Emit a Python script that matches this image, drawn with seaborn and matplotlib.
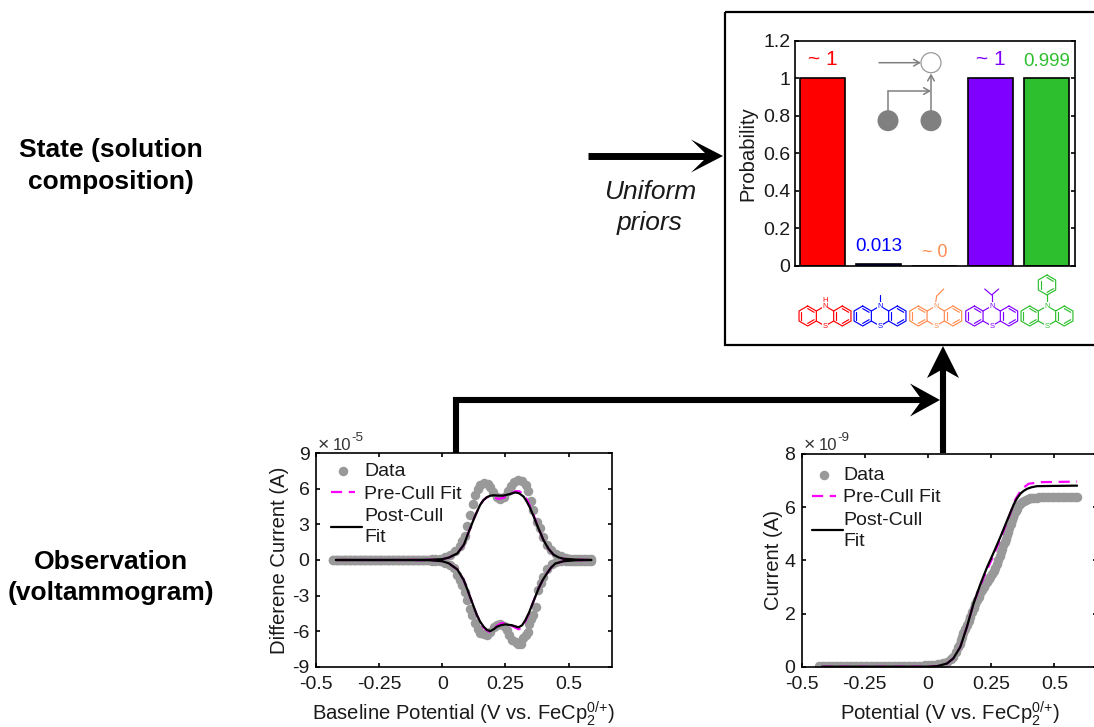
import numpy as np
import pandas as pd
import seaborn as sns
import matplotlib
matplotlib.use('Agg')
import matplotlib.pyplot as plt
from matplotlib.patches import Circle, Rectangle

W, H = 1094, 727
FONT = 'Liberation Sans'
FS = 14
LABEL_FS = 14.6
GREY = '#999999'
NET_GREY = '#808080'

# bar panel
compounds = ['H', 'Methyl', 'Ethyl', 'Isopropyl', 'Phenyl']
probabilities = [1.0, 0.013, 0.0, 1.0, 0.999]
prob_labels = ['~ 1', '0.013', '~ 0', '~ 1', '0.999']
bar_colors = ['#ff0000', '#0000ff', '#ff8c50', '#8000ff', '#2dbf2d']
prob_ticks = [0, 0.2, 0.4, 0.6, 0.8, 1, 1.2]
prob_ticklabels = ['0', '0.2', '0.4', '0.6', '0.8', '1', '1.2']

pot_ticks = [-0.5, -0.25, 0, 0.25, 0.5]
pot_ticklabels = ['-0.5', '-0.25', '0', '0.25', '0.5']

# flat part of both voltammograms, same potentials in every scan
flat_x = [-0.43, -0.42, -0.41, -0.40, -0.39, -0.38, -0.37, -0.36, -0.35, -0.34, -0.33, -0.32, -0.31,
          -0.30, -0.29, -0.28, -0.27, -0.26, -0.25, -0.24, -0.23, -0.22, -0.21, -0.20, -0.19, -0.18,
          -0.17, -0.16, -0.15, -0.14, -0.13, -0.12, -0.11, -0.10, -0.09, -0.08, -0.07, -0.06, -0.05, -0.04]
flat_sw_up = [0.03, 0.03, 0.03, 0.03, 0.03, 0.03, 0.03, 0.03, 0.03, 0.03, 0.03, 0.03, 0.03,
              0.03, 0.03, 0.03, 0.03, 0.03, 0.03, 0.03, 0.03, 0.03, 0.03, 0.03, 0.03, 0.03,
              0.03, 0.03, 0.03, 0.03, 0.03, 0.03, 0.03, 0.03, 0.03, 0.03, 0.03, 0.03, 0.04, 0.05]
flat_sw_low = [-0.03, -0.03, -0.03, -0.03, -0.03, -0.03, -0.03, -0.03, -0.03, -0.03, -0.03, -0.03, -0.03,
               -0.03, -0.03, -0.03, -0.03, -0.03, -0.03, -0.03, -0.03, -0.03, -0.03, -0.03, -0.03, -0.03,
               -0.03, -0.03, -0.03, -0.03, -0.03, -0.03, -0.03, -0.03, -0.03, -0.03, -0.03, -0.03, -0.04, -0.05]
flat_cv = [0.03, 0.03, 0.03, 0.03, 0.03, 0.03, 0.03, 0.03, 0.03, 0.03, 0.03, 0.03, 0.03,
           0.03, 0.03, 0.03, 0.03, 0.03, 0.03, 0.03, 0.03, 0.03, 0.03, 0.03, 0.03, 0.03,
           0.03, 0.03, 0.03, 0.03, 0.03, 0.03, 0.03, 0.03, 0.03, 0.03, 0.04, 0.04, 0.04, 0.04]

# square wave voltammogram, upper and lower branches (1e-5 A)
sw_up_x = [-0.03, -0.01, 0.01, 0.03, 0.05, 0.07, 0.08, 0.09, 0.10, 0.11, 0.12, 0.13, 0.14, 0.15, 0.165,
           0.18, 0.19, 0.20, 0.215, 0.23, 0.245, 0.26, 0.27, 0.285, 0.30, 0.315, 0.33, 0.34, 0.35, 0.36,
           0.375, 0.385, 0.40, 0.415, 0.43, 0.45, 0.47, 0.49, 0.50, 0.51, 0.52, 0.53, 0.54, 0.55, 0.56,
           0.57, 0.58, 0.59]
sw_up_y = [0.08, 0.12, 0.22, 0.4, 0.75, 1.2, 1.6, 2.0, 2.9, 3.8, 4.7, 5.5, 6.0, 6.3, 6.5,
           6.45, 6.15, 5.75, 5.3, 5.15, 5.3, 5.8, 6.25, 6.6, 6.75, 6.7, 6.35, 5.85, 5.0, 4.2,
           3.2, 2.7, 1.9, 1.3, 0.85, 0.5, 0.3, 0.15, 0.1, 0.08, 0.06, 0.05, 0.05, 0.05, 0.05,
           0.05, 0.05, 0.05]
sw_low_x = [-0.03, -0.01, 0.01, 0.03, 0.045, 0.06, 0.07, 0.078, 0.09, 0.10, 0.11, 0.118, 0.13, 0.14, 0.15,
            0.165, 0.177, 0.19, 0.203, 0.215, 0.23, 0.243, 0.255, 0.265, 0.275, 0.29, 0.30, 0.31, 0.32,
            0.33, 0.338, 0.344, 0.352, 0.36, 0.37, 0.38, 0.39, 0.40, 0.415, 0.434, 0.45, 0.47, 0.49, 0.50,
            0.51, 0.52, 0.53, 0.54, 0.55, 0.56, 0.57, 0.58, 0.59]
sw_low_y = [-0.08, -0.12, -0.22, -0.45, -0.7, -1.3, -1.7, -2.1, -2.7, -3.38, -4.1, -4.64, -5.3, -5.8, -6.16,
            -6.28, -6.33, -6.05, -5.63, -5.45, -5.4, -5.55, -5.9, -6.35, -6.75, -6.95, -7.05, -7.05, -6.6,
            -6.35, -6.1, -5.43, -5.0, -4.64, -3.94, -2.5, -1.9, -1.4, -0.8, -0.3, -0.18, -0.12, -0.08, -0.06,
            -0.05, -0.05, -0.05, -0.05, -0.05, -0.05, -0.05, -0.05, -0.05]

sw_fit_up_x = [-0.42, -0.2, -0.05, 0.0, 0.026, 0.06, 0.086, 0.10, 0.112, 0.124, 0.137, 0.15, 0.163, 0.177,
               0.19, 0.203, 0.222, 0.242, 0.265, 0.289, 0.305, 0.322, 0.335, 0.348, 0.362, 0.375, 0.388,
               0.40, 0.42, 0.44, 0.46, 0.48, 0.53, 0.59]
sw_fit_up_y = [0.0, 0.0, 0.02, 0.07, 0.2, 0.56, 1.3, 2.1, 2.75, 3.4, 4.05, 4.65, 5.05, 5.3,
               5.42, 5.46, 5.43, 5.43, 5.55, 5.7, 5.62, 5.34, 4.9, 4.36, 3.65, 2.95, 2.3,
               1.69, 0.95, 0.45, 0.22, 0.1, 0.03, 0.0]
sw_pre_up_y = [0.0, 0.0, 0.02, 0.07, 0.2, 0.56, 1.3, 2.1, 2.75, 3.4, 4.05, 4.65, 5.05, 5.3,
               5.4, 5.3, 5.15, 5.25, 5.5, 5.8, 5.8, 5.5, 5.1, 4.5, 3.75, 3.0, 2.3,
               1.69, 0.95, 0.45, 0.22, 0.1, 0.03, 0.0]
sw_fit_low_x = [-0.42, -0.2, -0.05, 0.0, 0.026, 0.06, 0.085, 0.098, 0.11, 0.124, 0.137, 0.15, 0.164, 0.177,
                0.19, 0.203, 0.216, 0.232, 0.25, 0.275, 0.302, 0.316, 0.329, 0.342, 0.355, 0.368, 0.381,
                0.397, 0.414, 0.43, 0.447, 0.48, 0.53, 0.59]
sw_fit_low_y = [0.0, 0.0, -0.02, -0.1, -0.28, -0.8, -1.69, -2.4, -3.1, -3.9, -4.64, -5.2, -5.63, -5.9,
                -6.0, -5.85, -5.63, -5.5, -5.43, -5.5, -5.68, -5.5, -5.06, -4.5, -3.8, -3.1, -2.4,
                -1.7, -1.13, -0.65, -0.3, -0.1, -0.02, 0.0]
sw_pre_low_y = [0.0, 0.0, -0.02, -0.1, -0.28, -0.8, -1.69, -2.4, -3.1, -3.9, -4.64, -5.2, -5.7, -5.95,
                -6.1, -5.9, -5.55, -5.35, -5.3, -5.55, -5.85, -5.65, -5.15, -4.55, -3.8, -3.1, -2.4,
                -1.7, -1.13, -0.65, -0.3, -0.1, -0.02, 0.0]

# cyclic voltammogram (1e-9 A)
cv_x = [-0.03, -0.02, -0.01, 0.0, 0.01, 0.02, 0.03, 0.04, 0.05, 0.06, 0.075, 0.09, 0.10, 0.11, 0.12, 0.125,
        0.13, 0.135, 0.14, 0.147, 0.154, 0.161, 0.168, 0.174, 0.18, 0.187, 0.194, 0.2, 0.207, 0.213, 0.22,
        0.227, 0.234, 0.24, 0.247, 0.253, 0.26, 0.267, 0.273, 0.278, 0.283, 0.288, 0.293, 0.298, 0.303,
        0.308, 0.313, 0.318, 0.322, 0.327, 0.332, 0.337, 0.342, 0.347, 0.352, 0.358, 0.365, 0.372, 0.379,
        0.387, 0.395, 0.402, 0.41, 0.42, 0.43, 0.44, 0.45, 0.46, 0.47, 0.48, 0.49, 0.50, 0.51, 0.52, 0.53,
        0.54, 0.55, 0.56, 0.57, 0.58, 0.59]
cv_y = [0.04, 0.04, 0.05, 0.05, 0.06, 0.07, 0.08, 0.09, 0.11, 0.14, 0.19, 0.28, 0.37, 0.55, 0.75, 0.87,
        1.0, 1.12, 1.25, 1.4, 1.55, 1.72, 1.88, 2.04, 2.2, 2.35, 2.5, 2.64, 2.78, 2.9, 3.0,
        3.1, 3.2, 3.29, 3.38, 3.49, 3.6, 3.73, 3.87, 4.0, 4.15, 4.3, 4.44, 4.57, 4.7,
        4.82, 4.94, 5.07, 5.2, 5.35, 5.5, 5.63, 5.75, 5.85, 5.94, 6.04, 6.12, 6.19, 6.25,
        6.28, 6.31, 6.33, 6.35, 6.36, 6.36, 6.37, 6.37, 6.37, 6.37, 6.37, 6.37, 6.37, 6.37, 6.37, 6.37,
        6.37, 6.37, 6.37, 6.37, 6.37, 6.37]
cv_fit_x = [-0.42, -0.2, 0.0, 0.036, 0.075, 0.10, 0.128, 0.154, 0.18, 0.207, 0.234, 0.26, 0.286, 0.313,
            0.339, 0.352, 0.365, 0.378, 0.392, 0.41, 0.431, 0.5, 0.59]
cv_fit_y = [0.0, 0.0, 0.0, 0.02, 0.12, 0.31, 0.75, 1.5, 2.37, 3.1, 3.75, 4.3, 4.87, 5.5,
            6.1, 6.33, 6.5, 6.61, 6.69, 6.75, 6.79, 6.8, 6.81]
cv_pre_x = [-0.42, -0.2, 0.0, 0.036, 0.075, 0.10, 0.128, 0.154, 0.18, 0.207, 0.234, 0.26, 0.286, 0.313,
            0.333, 0.346, 0.372, 0.398, 0.445, 0.5, 0.59]
cv_pre_y = [0.0, 0.0, 0.0, 0.02, 0.12, 0.31, 0.75, 1.5, 2.37, 3.05, 3.65, 4.2, 4.8, 5.45,
            5.95, 6.3, 6.69, 6.88, 6.94, 6.95, 6.96]

sns.set_theme(style='ticks', rc={'axes.linewidth': 1.2, 'axes.unicode_minus': False,
                                 'axes.edgecolor': 'black',
                                 'xtick.color': 'black', 'ytick.color': 'black',
                                 'xtick.direction': 'in', 'ytick.direction': 'in',
                                 'xtick.major.size': 3, 'ytick.major.size': 3,
                                 'xtick.major.width': 1.2, 'ytick.major.width': 1.2,
                                 'xtick.major.pad': 6.5, 'ytick.major.pad': 4.5,
                                 'xtick.top': True, 'ytick.right': True,
                                 'xtick.labelsize': FS, 'ytick.labelsize': FS,
                                 'axes.labelsize': LABEL_FS, 'legend.fontsize': FS,
                                 'text.color': '#1a1a1a', 'axes.labelcolor': '#1a1a1a',
                                 'xtick.labelcolor': '#1a1a1a', 'ytick.labelcolor': '#1a1a1a',
                                 'mathtext.fontset': 'custom', 'mathtext.rm': FONT,
                                 'mathtext.it': FONT + ':italic', 'mathtext.bf': FONT + ':bold'})
plt.rcParams['font.family'] = [FONT, 'DejaVu Sans']

fig = plt.figure(figsize=(W / 100, H / 100), dpi=100)


def axes_px(left, top, right, bottom):
    return fig.add_axes([left / W, 1 - bottom / H, (right - left) / W, (bottom - top) / H])


def fit_loop(x_up, y_up, x_low, y_low):
    return pd.DataFrame({'x': list(x_up) + list(x_low)[::-1], 'y': list(y_up) + list(y_low)[::-1]})


def voltammogram(ax, data, pre, post, ylim, yticks, yticklabels, xlabel, ylabel, leg_x, leg_y, text_pad):
    sns.scatterplot(data=data, x='x', y='y', color=GREY, s=47, linewidth=0, ax=ax, label='Data', zorder=2)
    sns.lineplot(data=pre, x='x', y='y', estimator=None, sort=False, color='#ff00ff', lw=1.6,
                 dashes=(5, 3), ax=ax, label='Pre-Cull Fit', zorder=3)
    sns.lineplot(data=post, x='x', y='y', estimator=None, sort=False, color='black', lw=1.6,
                 ax=ax, label='Post-Cull\nFit', zorder=4)
    ax.set_xlim(-0.5, 0.67)
    ax.set_ylim(*ylim)
    ax.set_xticks(pot_ticks, pot_ticklabels)
    ax.set_yticks(yticks, yticklabels)
    ax.set_xlabel(xlabel, labelpad=4.5)
    ax.set_ylabel(ylabel)
    leg = ax.legend(loc='upper left', bbox_to_anchor=(leg_x, leg_y), frameon=False, borderpad=0,
                    borderaxespad=0, labelspacing=0.27, handlelength=1.25, handletextpad=text_pad)
    for txt in leg.get_texts():
        txt.set_linespacing(1.3)
    # the post-cull handle runs longer than the dashed one
    post_handle = leg.get_lines()[-1]
    xd = np.array(post_handle.get_xdata(), dtype=float)
    xd[-1] += 4.5
    post_handle.set_xdata(xd)
    return leg


# bar chart
ax_bar = axes_px(794.7, 40.7, 1074.7, 266)
sns.barplot(x=compounds, y=probabilities, hue=compounds, palette=bar_colors, legend=False, width=0.8,
            saturation=1, edgecolor='black', linewidth=1.2, ax=ax_bar)
ax_bar.set_xlim(-0.5, 4.5)
ax_bar.set_ylim(0, 1.2)
ax_bar.set_xticks([])
ax_bar.set_yticks(prob_ticks, prob_ticklabels)
ax_bar.tick_params(axis='y', pad=3)
ax_bar.set_ylabel('Probability')
ax_bar.yaxis.set_label_coords((757 - 794.7) / 280, 0.5)
for i, (txt, label_y, size) in enumerate(zip(prob_labels, [1.10, 0.104, 0.07, 1.10, 1.09],
                                             [15, 13.5, 13, 15, 13.5])):
    ax_bar.text(i, label_y, txt, color=bar_colors[i], fontsize=size, ha='center', va='center')

# square wave panel
ax_sw = axes_px(315.7, 453.3, 611.7, 666.7)
sw_data = pd.DataFrame({'x': flat_x + sw_up_x + flat_x + sw_low_x, 'y': flat_sw_up + sw_up_y + flat_sw_low + sw_low_y})
voltammogram(ax_sw, sw_data, fit_loop(sw_fit_up_x, sw_pre_up_y, sw_fit_low_x, sw_pre_low_y),
             fit_loop(sw_fit_up_x, sw_fit_up_y, sw_fit_low_x, sw_fit_low_y),
             (-9, 9), [-9, -6, -3, 0, 3, 6, 9], ['-9', '-6', '-3', '0', '3', '6', '9'],
             r'Baseline Potential (V vs. FeCp$_{2}^{0/{+}}$)', 'Differene Current (A)',
             (331 - 315.7) / 296, 1 - 9 / 213.4, 0.45)
ax_sw.yaxis.set_label_coords((289 - 315.7) / 296, 0.5)

# cyclic panel, its right edge runs off the figure
ax_cv = axes_px(801.7, 454, 1097.3, 666.7)
cv_data = pd.DataFrame({'x': flat_x + cv_x, 'y': flat_cv + cv_y})
voltammogram(ax_cv, cv_data, pd.DataFrame({'x': cv_pre_x, 'y': cv_pre_y}),
             pd.DataFrame({'x': cv_fit_x, 'y': cv_fit_y}),
             (0, 8), [0, 2, 4, 6, 8], ['0', '2', '4', '6', '8'],
             r'Potential (V vs. FeCp$_{2}^{0/{+}}$)', 'Current (A)',
             (812 - 801.7) / 295.6, 1 - 12 / 212.7, 0.35)
ax_cv.yaxis.set_label_coords((783 - 801.7) / 295.6, 0.5)

# overlay in pixel coordinates for the schematic parts
ov = fig.add_axes([0, 0, 1, 1], zorder=5)
ov.set_xlim(0, W)
ov.set_ylim(H, 0)
ov.axis('off')

ov.add_patch(Rectangle((725, 12), 400, 332.5, fill=False, edgecolor='black', lw=1.6))


def big_arrow(tip, back, width_half, notch, direction):
    dx, dy = direction
    px, py = -dy, dx
    tx, ty = tip
    ov.fill([tx, tx - dx * back + px * width_half, tx - dx * notch, tx - dx * back - px * width_half],
            [ty, ty - dy * back + py * width_half, ty - dy * notch, ty - dy * back - py * width_half],
            color='black', lw=0, zorder=6)


ov.plot([588, 710], [156, 156], color='black', lw=5, solid_capstyle='butt')
big_arrow((723, 156), 32, 16.5, 15, (1, 0))
ov.plot([456, 456, 925], [453, 400, 400], color='black', lw=4.4, solid_capstyle='butt', solid_joinstyle='miter')
big_arrow((940, 400), 30, 16.5, 18, (1, 0))
ov.plot([943, 943], [453, 365], color='black', lw=4.4, solid_capstyle='butt')
big_arrow((943, 346), 32, 16, 23, (0, -1))

ov.text(111, 166, 'State (solution\ncomposition)', fontsize=19, fontweight='bold', ha='center', va='center',
        color='black', linespacing=1.4)
ov.text(111, 577.5, 'Observation\n(voltammogram)', fontsize=19, fontweight='bold', ha='center', va='center',
        color='black', linespacing=1.4)
ov.text(650, 207.5, 'Uniform\npriors', fontsize=19, fontstyle='italic', ha='center', va='center',
        color='#1a1a1a', linespacing=1.35)

for x0, exp in [(317.5, '-5'), (803.4, '-9')]:
    ov.text(x0, 445.5, '\u00d7', fontsize=14, ha='left', va='center', color='#333333')
    ov.text(x0 + 15, 445.5, '10', fontsize=12, ha='left', va='center', color='#333333')
    ov.text(x0 + 34, 438, exp, fontsize=9.7, ha='left', va='center', color='#333333')

# graphical model inset
ov.add_patch(Circle((931, 62.7), 10, fill=False, edgecolor='#999999', lw=0.9))
ov.add_patch(Circle((888, 120.7), 10.5, color=NET_GREY, lw=0))
ov.add_patch(Circle((931, 120.7), 10.5, color=NET_GREY, lw=0))
net_arrow = dict(arrowstyle='->,head_width=0.2,head_length=0.35', color=NET_GREY, lw=1.1,
                 shrinkA=0, shrinkB=0)
ov.annotate('', xy=(921, 62.7), xytext=(879, 62.7), arrowprops=net_arrow)
ov.annotate('', xy=(931, 73.5), xytext=(931, 112), arrowprops=net_arrow)
ov.plot([888, 888], [112, 91], color=NET_GREY, lw=1.1)
ov.annotate('', xy=(931, 91), xytext=(888, 91), arrowprops=net_arrow)


def hexagon(cx, cy, r):
    ang = np.deg2rad(np.arange(6) * 60 - 90)
    return cx + r * np.cos(ang), cy + r * np.sin(ang)


def benzene(cx, cy, color, r=10):
    hx, hy = hexagon(cx, cy, r)
    ov.plot(list(hx) + [hx[0]], list(hy) + [hy[0]], color=color, lw=0.85)
    ix, iy = hexagon(cx, cy, r * 0.74)
    for k in (0, 2, 4):
        ov.plot([ix[k], ix[k + 1]], [iy[k], iy[k + 1]], color=color, lw=0.85)


def phenothiazine(cx, color, kind):
    cy = 316
    benzene(cx - 17.3, cy, color)
    benzene(cx + 17.3, cy, color)
    hx, hy = hexagon(cx, cy, 10)
    ov.plot([hx[5], hx[0], hx[1]], [hy[5], hy[0], hy[1]], color=color, lw=0.85)
    ov.plot([hx[2], hx[3], hx[4]], [hy[2], hy[3], hy[4]], color=color, lw=0.85)
    bbox = dict(facecolor='white', edgecolor='none', pad=0.2)
    ov.text(cx, 306, 'N', color=color, fontsize=5.5, ha='center', va='center', bbox=bbox, zorder=4)
    ov.text(cx, 326, 'S', color=color, fontsize=5.5, ha='center', va='center', bbox=bbox, zorder=4)
    if kind == 'H':
        ov.text(cx, 300, 'H', color=color, fontsize=5.5, ha='center', va='center')
    elif kind == 'Methyl':
        ov.plot([cx, cx], [302, 295], color=color, lw=0.85)
    elif kind == 'Ethyl':
        ov.plot([cx, cx + 1, cx + 8], [302, 296, 289], color=color, lw=0.85)
    elif kind == 'Isopropyl':
        ov.plot([cx, cx], [302, 295], color=color, lw=0.85)
        ov.plot([cx - 7, cx, cx + 7], [289, 295, 289], color=color, lw=0.85)
    elif kind == 'Phenyl':
        ov.plot([cx, cx], [302, 294], color=color, lw=0.85)
        benzene(cx, 285, color)


for mol_x, mol_color, kind in zip([825, 880, 935.7, 991.7, 1047], bar_colors, compounds):
    phenothiazine(mol_x, mol_color, kind)

fig.savefig('out.png', dpi=100)
